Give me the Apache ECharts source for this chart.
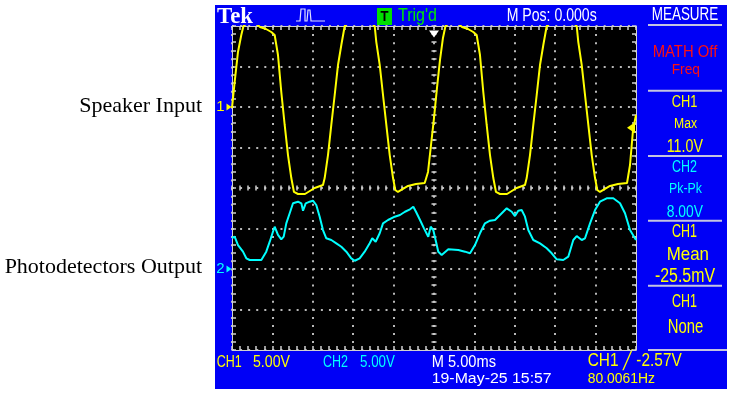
<!DOCTYPE html>
<html>
<head>
<meta charset="utf-8">
<title>Speaker input / photodetector output</title>
<script src="https://cdn.jsdelivr.net/npm/echarts@6.0.0/dist/echarts.min.js"></script>
<style>
  html, body { margin: 0; padding: 0; background: #fff; }
  #scope { width: 732px; height: 397px; }
</style>
</head>
<body>
<div id="scope"></div>
<script>
// 5 ms/div, 10 divisions, trigger (M Pos 0.000s) in the middle
const timeMin = -25;
const timeMax = 25;
const timePerDiv = 5;
const voltsPerDiv = 5;      // CH1 and CH2 both 5.00V
const ch1Position = 2;      // divisions above centre
const ch2Position = -2;
const trigLevel = -2.57;    // CH1 rising edge

// CH1 - speaker input (ms, V)
const ch1Time = [-25.00, -24.67, -24.26, -23.85, -23.58, -22.77, -22.03, -21.53, -20.79, -20.14,
  -19.72, -19.31, -18.90, -18.48, -18.07, -17.66, -17.33, -16.83, -15.97, -14.77,
  -13.74, -13.53, -13.12, -12.71, -12.29, -11.88, -11.47, -11.05, -10.15, -9.16,
  -8.17, -7.34, -7.14, -6.72, -6.31, -5.90, -5.48, -5.07, -4.79, -4.46,
  -3.22, -2.23, -1.15, -0.74, -0.37, 0.00, 0.37, 0.74, 1.11, 1.42,
  2.23, 2.97, 3.47, 4.21, 4.86, 5.28, 5.69, 6.10, 6.52, 6.93,
  7.34, 7.67, 8.17, 9.03, 10.23, 11.26, 11.47, 11.88, 12.29, 12.71,
  13.12, 13.53, 13.95, 14.85, 15.84, 16.83, 17.66, 17.86, 18.28, 18.69,
  19.10, 19.52, 19.93, 20.21, 20.54, 21.78, 22.77, 23.89, 24.26, 24.63, 25.00];
const ch1Volts = [-0.12, 3.09, 6.79, 8.89, 10.0, 10.6, 10.3, 9.88, 9.63, 9.26,
  8.89, 6.42, 1.85, -2.22, -5.93, -8.77, -10.49, -10.74, -10.74, -10.0,
  -9.63, -8.77, -5.93, -2.22, 1.48, 5.19, 7.65, 10.0, 10.8, 11.0,
  10.7, 10.0, 8.02, 5.19, 1.48, -2.22, -5.93, -8.77, -10.25, -10.49,
  -9.75, -9.51, -9.38, -8.02, -4.69, -1.36, 2.35, 5.80, 8.52, 10.0,
  10.6, 10.3, 9.88, 9.63, 9.26, 8.89, 6.42, 1.85, -2.22, -5.93,
  -8.77, -10.49, -10.74, -10.74, -10.0, -9.63, -8.77, -5.93, -2.22, 1.48,
  5.19, 7.65, 10.0, 10.8, 11.0, 10.7, 10.0, 8.02, 5.19, 1.48,
  -2.22, -5.93, -8.77, -10.25, -10.49, -9.75, -9.51, -9.38, -7.16, -2.84, -0.99];

// CH2 - photodetectors output (ms, V)
const ch2Time = [-25.00, -24.67, -24.26, -23.64, -23.23, -22.81, -21.37, -20.76, -20.33, -19.93,
  -19.72, -19.31, -18.90, -18.60, -18.28, -17.86, -17.45, -16.83, -16.42, -16.21,
  -15.88, -15.38, -14.98, -14.57, -14.15, -13.74, -13.33, -12.71, -12.09, -11.47,
  -10.85, -10.24, -9.81, -9.20, -8.58, -7.96, -7.64, -7.22, -6.72, -6.31,
  -5.69, -4.86, -4.21, -3.59, -2.97, -2.56, -2.23, -1.73, -1.24, -0.71,
  -0.41, -0.09, 0.25, 0.53, 0.95, 1.77, 3.01, 3.84, 4.46, 5.07,
  5.69, 6.31, 6.93, 7.55, 8.17, 9.00, 9.62, 10.02, 10.43, 10.85,
  11.26, 11.67, 12.29, 13.12, 13.95, 14.57, 15.19, 16.00, 16.62, 17.24,
  17.66, 18.28, 18.69, 19.31, 19.93, 20.54, 21.37, 22.19, 23.02, 23.64, 24.26, 25.00];
const ch2Volts = [3.83, 3.99, 2.96, 2.14, 1.32, 1.11, 1.11, 2.14, 3.37, 4.60,
  5.22, 4.20, 3.67, 3.99, 5.64, 6.88, 8.11, 8.31, 8.11, 7.20,
  8.11, 8.31, 8.43, 7.90, 6.46, 4.81, 3.79, 3.58, 3.17, 2.75,
  2.14, 1.32, 1.02, 1.32, 2.14, 3.17, 3.79, 3.37, 4.41, 5.64,
  6.05, 6.46, 6.67, 7.07, 7.37, 7.69, 7.07, 6.05, 5.02, 3.99,
  5.22, 4.81, 3.37, 2.14, 1.73, 2.43, 2.35, 2.14, 1.94, 2.96,
  4.41, 5.64, 5.96, 6.05, 6.67, 7.49, 7.07, 6.54, 7.20, 7.28,
  6.46, 4.81, 3.58, 3.17, 2.56, 1.94, 1.20, 1.11, 1.52, 3.58,
  4.07, 3.58, 3.79, 5.64, 7.28, 8.31, 8.73, 8.73, 8.11, 6.88, 4.81, 3.58];

const YELLOW = '#ffff00';
const CYAN = '#00ffff';
const BLUE = '#0000f6';

const chart = echarts.init(document.getElementById('scope'));

// screen text: fit the cap height and the width
const measureCtx = document.createElement('canvas').getContext('2d');
function label(text, x, capTop, capBottom, width, color, family, weight) {
  family = family || 'Liberation Sans';
  weight = weight || 'normal';
  const capRatio = family === 'Liberation Serif' ? 0.662 : 0.716;
  const size = (capBottom - capTop) / capRatio;
  const font = weight + ' ' + size.toFixed(2) + 'px "' + family + '"';
  measureCtx.font = font;
  const natural = measureCtx.measureText(text).width;
  return {
    type: 'text', x: x, y: (capTop + capBottom) / 2 + 0.09 * size, scaleX: width / natural, silent: true,
    style: { text: text, fill: color, font: font, align: 'left', verticalAlign: 'middle',
      textAlign: 'left', textVerticalAlign: 'middle' }
  };
}
function caption(text, capMid) {
  return { type: 'text', x: 202, y: capMid, silent: true,
    style: { text: text, fill: '#000', font: '22px "Liberation Serif"', align: 'right', verticalAlign: 'middle',
      textAlign: 'right', textVerticalAlign: 'middle' } };
}
function rule(x1, x2, y) {
  return { type: 'line', silent: true, shape: { x1: x1, y1: y, x2: x2, y2: y },
    style: { stroke: '#c4c4e0', lineWidth: 2 } };
}

const tickColor = '#d0d0d0';
const dots = { color: '#b8b8b8', width: 2, type: [2, 6.08] };
function ticks(len, inside) {
  return {
    axisTick: { show: true, inside: inside, length: len, lineStyle: { color: tickColor, width: 1.5 } },
    minorTick: { show: true, splitNumber: 5, length: len, lineStyle: { color: tickColor, width: 1.5 } }
  };
}
const xBase = { type: 'value', min: timeMin, max: timeMax, interval: timePerDiv,
  axisLabel: { show: false }, splitLine: { show: false } };
const yBase = { type: 'value', min: -4, max: 4, interval: 1,
  axisLabel: { show: false }, splitLine: { show: false } };
const frameLine = { lineStyle: { color: '#d0d0d0', width: 1 } };

const toDiv = (pos) => (v) => v / voltsPerDiv + pos;
const ch1Data = ch1Time.map((t, i) => [t, toDiv(ch1Position)(ch1Volts[i])]);
const ch2Data = ch2Time.map((t, i) => [t, toDiv(ch2Position)(ch2Volts[i])]);

const option = {
  animation: false,
  backgroundColor: '#ffffff',
  grid: { left: 232, top: 26, width: 404, height: 324, show: true, backgroundColor: '#000000',
    borderWidth: 0, containLabel: false, outerBoundsMode: 'none' },
  xAxis: [
    Object.assign({}, xBase, { position: 'bottom', axisLine: Object.assign({ onZero: false }, frameLine),
      splitLine: { show: true, lineStyle: dots } }, ticks(4, true)),
    Object.assign({}, xBase, { position: 'top', axisLine: Object.assign({ onZero: false }, frameLine) }, ticks(4, true)),
    Object.assign({}, xBase, { position: 'bottom', axisLine: { show: false, onZero: true, onZeroAxisIndex: 0 } }, ticks(2.5, true)),
    Object.assign({}, xBase, { position: 'bottom', axisLine: { show: false, onZero: true, onZeroAxisIndex: 0 } }, ticks(2.5, false))
  ],
  yAxis: [
    Object.assign({}, yBase, { position: 'left', axisLine: Object.assign({ onZero: false }, frameLine),
      splitLine: { show: true, lineStyle: dots } }, ticks(4, true)),
    Object.assign({}, yBase, { position: 'right', axisLine: Object.assign({ onZero: false }, frameLine) }, ticks(4, true)),
    Object.assign({}, yBase, { position: 'left', axisLine: { show: false, onZero: true, onZeroAxisIndex: 0 } }, ticks(2.5, true)),
    Object.assign({}, yBase, { position: 'left', axisLine: { show: false, onZero: true, onZeroAxisIndex: 0 } }, ticks(2.5, false))
  ],
  series: [
    {
      name: 'CH1', type: 'line', data: ch1Data, showSymbol: false, clip: true,
      lineStyle: { color: YELLOW, width: 2 }, itemStyle: { color: YELLOW }, z: 5,
      markPoint: {
        silent: true,
        data: [
          // trigger position (top)
          { coord: [0, 4], symbol: 'triangle', symbolRotate: 180, symbolSize: [10, 7], symbolOffset: [0, 8],
            itemStyle: { color: '#ffffff' }, label: { show: false } },
          // trigger level (right)
          { coord: [timeMax, toDiv(ch1Position)(trigLevel)], symbol: 'triangle', symbolRotate: 90,
            symbolSize: [11, 8], symbolOffset: [-5, 0], itemStyle: { color: YELLOW }, label: { show: false } },
          // CH1 ground marker
          { coord: [timeMin, ch1Position], symbol: 'triangle', symbolRotate: -90, symbolSize: [7, 5],
            symbolOffset: [-3, 0], itemStyle: { color: YELLOW },
            label: { show: true, position: 'left', distance: 2, formatter: '1', color: YELLOW,
              fontSize: 15, fontFamily: 'Liberation Sans' } }
        ]
      }
    },
    {
      name: 'CH2', type: 'line', data: ch2Data, showSymbol: false, clip: true,
      lineStyle: { color: CYAN, width: 2 }, itemStyle: { color: CYAN }, z: 6,
      markPoint: {
        silent: true,
        data: [
          { coord: [timeMin, ch2Position], symbol: 'triangle', symbolRotate: -90, symbolSize: [7, 5],
            symbolOffset: [-3, 0], itemStyle: { color: CYAN },
            label: { show: true, position: 'left', distance: 2, formatter: '2', color: CYAN,
              fontSize: 15, fontFamily: 'Liberation Sans' } }
        ]
      }
    }
  ],
  graphic: [
    { type: 'rect', z: -10, silent: true, shape: { x: 215, y: 5, width: 512, height: 384 }, style: { fill: BLUE } },
    // left captions
    caption('Speaker Input', 105.8),
    caption('Photodetectors Output', 267.5),
    // top bar
    label('Tek', 217, 8, 23, 36, '#ffffff', 'Liberation Serif', 'bold'),
    { type: 'polyline', silent: true,
      shape: { points: [[296, 21], [300, 21], [301, 9], [305, 9], [305, 21], [307, 21], [308, 10], [310, 10], [311, 21], [325, 21]] },
      style: { stroke: '#e0e0ff', lineWidth: 1.2, fill: null } },
    { type: 'rect', silent: true, shape: { x: 377, y: 8, width: 15, height: 17 }, style: { fill: '#00e000' } },
    label('T', 380.5, 11, 21, 8, '#000000', 'Liberation Sans', 'bold'),
    label("Trig'd", 398, 7, 20.5, 39, '#00e800'),
    label('M Pos: 0.000s', 506.7, 7.3, 20.7, 90, '#ffffff'),
    label('MEASURE', 651.7, 6.7, 20, 66.6, '#ffffff'),
    rule(648, 722, 25),
    // measurement panel
    label('MATH Off', 652.7, 45, 56.7, 64.6, '#ff1010'),
    label('Freq', 671.7, 63, 74, 28.3, '#ff1010'),
    rule(648, 722, 90.7),
    label('CH1', 671.7, 95, 106.7, 25.6, YELLOW),
    label('Max', 674, 118, 128, 23, YELLOW),
    label('11.0V', 666.7, 138, 151.7, 36.3, YELLOW),
    rule(648, 722, 156),
    label('CH2', 672, 160, 171.7, 25, CYAN),
    label('Pk-Pk', 669, 183, 193, 33, CYAN),
    label('8.00V', 666.7, 205, 216.7, 36.3, CYAN),
    rule(648, 722, 220.7),
    label('CH1', 672, 223.3, 236.7, 25, YELLOW),
    label('Mean', 666.7, 247, 260, 42.3, YELLOW),
    label('-25.5mV', 655, 268, 282, 60, YELLOW),
    rule(648, 722, 285.7),
    label('CH1', 672, 294, 307, 25, YELLOW),
    label('None', 667.7, 318, 333, 35.6, YELLOW),
    rule(648, 727, 350),
    // bottom bar
    label('CH1', 216.7, 355, 366.7, 25, YELLOW),
    label('5.00V', 253, 355, 366.7, 37, YELLOW),
    label('CH2', 323, 355, 366.7, 25, CYAN),
    label('5.00V', 360, 355, 366.7, 35, CYAN),
    label('M 5.00ms', 431.7, 355, 367, 64.3, '#ffffff'),
    label('19-May-25 15:57', 431.7, 372, 383, 120, '#ffffff'),
    label('CH1 \u2571 -2.57V', 587.7, 353, 366, 94, YELLOW),
    label('80.0061Hz', 587.7, 372, 383, 67.3, YELLOW)
  ]
};

chart.setOption(option);
</script>
</body>
</html>
